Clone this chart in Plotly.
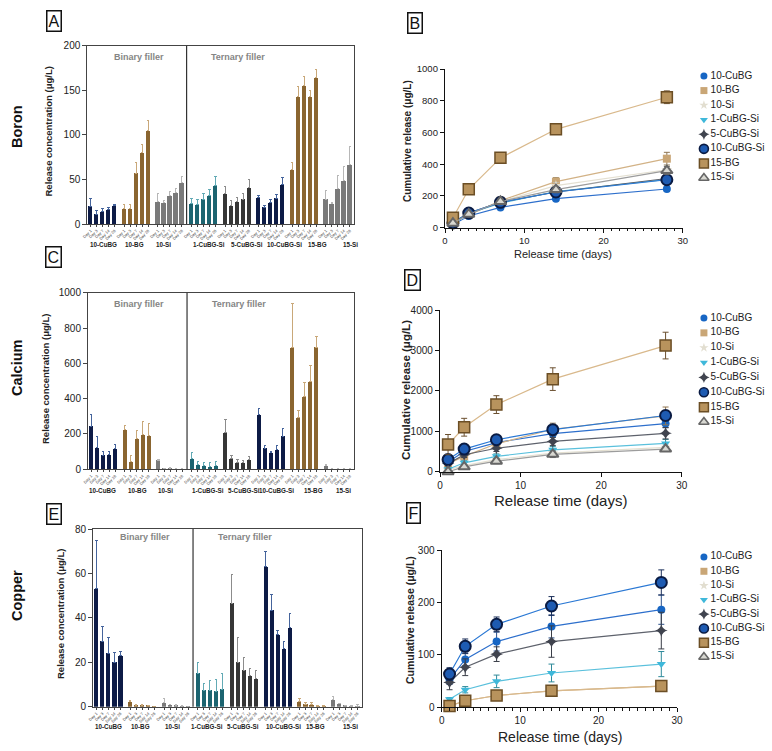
import plotly.graph_objects as go

# ---------------- data ----------------
groups = ['10-CuBG', '10-BG', '10-Si', '1-CuBG-Si', '5-CuBG-Si', '10-CuBG-Si', '15-BG', '15-Si']
day_labels = ['Day 1', 'Day 3', 'Day 7', 'Day 14', 'Day 28']
days = [1, 3, 7, 14, 28]

boron_conc = [
    [20, 11, 14, 16, 21],
    [17, 17, 57, 80, 105],
    [25, 24, 32, 35, 46],
    [23, 22, 28, 32, 43],
    [34, 21, 25, 28, 41],
    [30, 19, 24, 29, 44],
    [61, 143, 155, 143, 164],
    [28, 23, 40, 49, 67],
]
boron_conc_err = [
    [9, 4, 3, 3, 1],
    [5, 5, 12, 9, 11],
    [9, 2, 4, 5, 7],
    [6, 5, 6, 7, 10],
    [8, 5, 5, 6, 9],
    [2, 2, 3, 4, 8],
    [8, 11, 11, 7, 9],
    [10, 1, 14, 15, 20],
]
calcium_conc = [
    [245, 125, 81, 85, 115],
    [223, 45, 175, 195, 190],
    [52, 5, 5, 3, 1],
    [62, 25, 20, 17, 22],
    [206, 62, 38, 36, 53],
    [310, 120, 93, 112, 188],
    [688, 293, 410, 495, 692],
    [20, 2, 1, 1, 1],
]
calcium_conc_err = [
    [68, 60, 19, 15, 28],
    [25, 34, 43, 75, 68],
    [5, 2, 3, 2, 1],
    [33, 17, 18, 20, 20],
    [77, 15, 15, 15, 18],
    [35, 12, 10, 22, 43],
    [253, 40, 82, 95, 60],
    [8, 1, 1, 1, 1],
]
copper_conc = [
    [53, 29.5, 24, 20, 23],
    [2.2, 0.7, 0.7, 0.5, 0.1],
    [1.8, 0.8, 0.6, 0.2, 0.1],
    [15, 7.5, 7.5, 7, 7.8],
    [46.5, 20, 16.5, 14, 12.5],
    [63, 43.5, 32.5, 26, 35.5],
    [2.2, 1.0, 0.8, 0.3, 0.2],
    [3.2, 1.3, 0.4, 0.2, 0.3],
]
copper_conc_err = [
    [22, 6.5, 7, 4.5, 2],
    [0.8, 0.2, 0.2, 0.2, 0.1],
    [2, 0.3, 0.3, 0.2, 0.1],
    [5, 2.8, 4.5, 5.3, 7],
    [13, 11, 5.5, 3.2, 4],
    [7, 7, 1.8, 3.3, 6.5],
    [1.3, 0.8, 1.0, 0.4, 0.3],
    [1.5, 0.3, 0.2, 0.2, 0.5],
]

series = ['10-CuBG', '10-BG', '10-Si', '1-CuBG-Si', '5-CuBG-Si', '10-CuBG-Si', '15-BG', '15-Si']
boron_cum = [
    [20, 74, 128, 183, 244],
    [30, 80, 170, 290, 435],
    [25, 85, 165, 265, 365],
    [23, 90, 155, 228, 305],
    [34, 92, 160, 225, 310],
    [30, 92, 160, 225, 302],
    [63, 242, 440, 620, 822],
    [28, 85, 165, 240, 360],
]
boron_cum_err = [
    [5, 6, 8, 10, 12],
    [8, 10, 15, 25, 40],
    [8, 10, 15, 20, 30],
    [5, 8, 10, 12, 15],
    [8, 10, 12, 15, 20],
    [4, 6, 8, 10, 15],
    [10, 15, 15, 20, 40],
    [8, 10, 15, 20, 25],
]
calcium_cum = [
    [240, 500, 720, 940, 1190],
    [200, 380, 690, 1050, 1380],
    [50, 150, 300, 460, 600],
    [60, 220, 380, 540, 700],
    [200, 420, 580, 750, 950],
    [300, 560, 790, 1040, 1390],
    [670, 1100, 1660, 2290, 3120],
    [0, 120, 260, 430, 560],
]
calcium_cum_err = [
    [50, 60, 70, 90, 100],
    [80, 70, 80, 150, 220],
    [30, 40, 50, 60, 60],
    [40, 50, 60, 80, 100],
    [60, 70, 80, 100, 140],
    [60, 60, 60, 80, 120],
    [250, 220, 220, 280, 330],
    [20, 50, 60, 80, 60],
]
# 10-Si and 15-Si show no visible points in the copper panel
copper_cum = [
    [53, 91, 125, 154, 186],
    [2, 12, 22, 31, 40],
    [None] * 5,
    [15, 33, 49, 65, 82],
    [47, 76, 101, 125, 146],
    [63, 116, 158, 193, 238],
    [2, 12, 22, 31, 40],
    [None] * 5,
]
copper_cum_err = [
    [10, 12, 18, 22, 28],
    [2, 3, 3, 3, 4],
    [0, 0, 0, 0, 0],
    [3, 6, 12, 17, 24],
    [14, 16, 14, 30, 35],
    [12, 14, 14, 18, 24],
    [2, 3, 3, 3, 4],
    [0, 0, 0, 0, 0],
]

# ---------------- styles ----------------
FONT = 'Liberation Sans, Arial, sans-serif'
W, H = 772, 751


def px(p):
    return p / W


def py(p):
    return 1 - p / H


def note(**kw):
    kw.setdefault('xanchor', 'center')
    kw.setdefault('yanchor', 'middle')
    kw.setdefault('showarrow', False)
    fig.add_annotation(**kw)


NAVY, BROWN, GRAY, TEAL, DARK = '#0d1b46', '#8a6530', '#7a7a7a', '#1c6470', '#363636'
bar_colors = [NAVY, BROWN, GRAY, TEAL, DARK, NAVY, BROWN, GRAY]
err_colors = {NAVY: '#45649c', BROWN: '#c9a879', GRAY: '#b7b7b7', TEAL: '#62aab5', DARK: '#8c8c8c'}

line_styles = {
    '10-CuBG': dict(symbol='circle', size=8, color='#1766c4', ol='#1766c4', olw=0, line='#2d6fcc', err='#2a4f8a', lsize=7),
    '10-BG': dict(symbol='square', size=8, color='#c9a676', ol='#c9a676', olw=0, line='#d2b286', err='#8f7550', lsize=7),
    '10-Si': dict(symbol='star', size=8, color='#e2ded0', ol='#e2ded0', olw=0, line='#e4e0d2', err='#bdb8a8', lsize=7),
    '1-CuBG-Si': dict(symbol='triangle-down', size=8, color='#3fb8da', ol='#3fb8da', olw=0, line='#5ac0dc', err='#2f8a9a', lsize=7),
    '5-CuBG-Si': dict(symbol='star-diamond', size=9, color='#40444f', ol='#40444f', olw=0, line='#5e626c', err='#3a3e48', lsize=8),
    '10-CuBG-Si': dict(symbol='circle', size=11, color='#1e5bb2', ol='#0a1b43', olw=2, line='#2a78d4', err='#1b2f5a', lsize=9),
    '15-BG': dict(symbol='square', size=11, color='#b8935d', ol='#6b4e25', olw=1.5, line='#d9b98c', err='#6b5030', lsize=9),
    '15-Si': dict(symbol='triangle-up', size=10, color='#d8d8d2', ol='#666666', olw=2, line='#9c9c9c', err='#666666', lsize=9),
}

fig = go.Figure()

# ---------------- bar panels ----------------
GROUP_PITCH = 5.6
bar_panels = [
    dict(ax='', conc=boron_conc, err=boron_conc_err, dom=([87.3, 354], [45.7, 224]), rng=[0, 200], dt=50,
         glab_y=245, glab_x=[103, 134, 163, 209, 247, 284, 317, 350], filler_y=57, ytitle=(48, 131.5)),
    dict(ax='3', conc=calcium_conc, err=calcium_conc_err, dom=([88, 354], [292.7, 469.3]), rng=[0, 1000], dt=200,
         glab_y=490, glab_x=[102, 137, 165, 208, 244, 276, 313, 343], filler_y=304, ytitle=(45, 379)),
    dict(ax='5', conc=copper_conc, err=copper_conc_err, dom=([93, 361.7], [529, 706.7]), rng=[0, 80], dt=20,
         glab_y=726, glab_x=[108, 140, 172, 207, 243, 283, 315, 350], filler_y=536.7, ytitle=(60, 614)),
]

positions = [[g * GROUP_PITCH + i for i in range(len(day_labels))] for g in range(len(groups))]
tickvals = [v for row in positions for v in row]
ticktext = day_labels * len(groups)
divider_x = (positions[2][-1] + positions[3][0]) / 2

for p in bar_panels:
    xa, ya = 'x' + p['ax'], 'y' + p['ax']
    for g, name in enumerate(groups):
        c = bar_colors[g]
        fig.add_trace(go.Bar(
            x=positions[g], y=p['conc'][g], width=0.68, marker=dict(color=c, line=dict(width=0)),
            error_y=dict(type='data', array=p['err'][g], arrayminus=[0] * 5, symmetric=False,
                         color=err_colors[c], thickness=1, width=1.2),
            xaxis=xa, yaxis=ya, showlegend=False, name=name))
    key = p['ax']
    (x0, x1), (y0, y1) = p['dom']
    fig.layout['xaxis' + key] = dict(
        domain=[px(x0), px(x1)], anchor=ya, range=[-0.55, positions[-1][-1] + 0.7],
        tickmode='array', tickvals=tickvals, ticktext=ticktext, tickangle=-45, automargin=False,
        tickfont=dict(size=4, color='#444', family=FONT), ticks='outside', ticklen=2, tickcolor='#444',
        showline=True, linecolor='#444', linewidth=1, mirror=True, showgrid=False, zeroline=False)
    fig.layout['yaxis' + key] = dict(
        domain=[py(y1), py(y0)], anchor=xa, range=p['rng'], dtick=p['dt'], automargin=False,
        tickfont=dict(size=10, color='#222', family=FONT), ticks='outside', ticklen=4, tickcolor='#444',
        showline=True, linecolor='#444', linewidth=1, mirror=True, showgrid=False, zeroline=False)
    fig.add_shape(type='line', xref=xa, yref=ya + ' domain', x0=divider_x, x1=divider_x, y0=0, y1=1,
                  line=dict(color='#333', width=1.2))
    for g, name in enumerate(groups):
        note(x=px(p['glab_x'][g]), xref='paper', y=py(p['glab_y']), yref='paper',
             text='<b>%s</b>' % name, font=dict(size=6.3, color='#222', family=FONT))
    note(x=(positions[0][0] + divider_x) / 2, xref=xa, y=py(p['filler_y']), yref='paper',
         text='<b>Binary filler</b>', font=dict(size=9, color='#858585', family=FONT))
    note(x=(divider_x + positions[-1][-1]) / 2 - 5, xref=xa, y=py(p['filler_y']), yref='paper',
         text='<b>Ternary filler</b>', font=dict(size=9, color='#858585', family=FONT))
    note(x=px(p['ytitle'][0]), y=py(p['ytitle'][1]), xref='paper', yref='paper', textangle=-90,
         text='<b>Release concentration (μg/L)</b>', font=dict(size=9.5, color='#222', family=FONT))

# ---------------- line panels ----------------
line_panels = [
    dict(ax='2', cum=boron_cum, err=boron_cum_err, dom=([445, 682.7], [69, 227.7]), rng=[0, 1000], dt=200,
         minor=True, xtitle=(563, 254, 11), ytitle=(407, 141, 10), leg=(76, 178), tf=9.5),
    dict(ax='4', cum=calcium_cum, err=calcium_cum_err, dom=([440, 681.7], [310, 471.7]), rng=[0, 4000], dt=1000,
         minor=False, xtitle=(560, 500, 15), ytitle=(406, 390, 11.5), leg=(318, 422), tf=10),
    dict(ax='6', cum=copper_cum, err=copper_cum_err, dom=([441.7, 677], [550, 707]), rng=[0, 300], dt=100,
         minor=True, xtitle=(560, 737, 14), ytitle=(410, 620, 10.5), leg=(557, 657), tf=10),
]
leg_axes = ['7', '8', '9']

for p, lk in zip(line_panels, leg_axes):
    key = p['ax']
    xa, ya = 'x' + key, 'y' + key
    for s, name in enumerate(series):
        st = line_styles[name]
        fig.add_trace(go.Scatter(
            x=days, y=p['cum'][s], mode='lines+markers', name=name, showlegend=False, cliponaxis=False,
            line=dict(color=st['line'], width=1.2),
            marker=dict(symbol=st['symbol'], size=st['size'], color=st['color'],
                        line=dict(color=st['ol'], width=st['olw'])),
            error_y=dict(type='data', array=p['err'][s], color=st['err'], thickness=1, width=3),
            xaxis=xa, yaxis=ya))
    (x0, x1), (y0, y1) = p['dom']
    xdict = dict(domain=[px(x0), px(x1)], anchor=ya, range=[0, 30], dtick=10, automargin=False,
                 tickfont=dict(size=p['tf'], color='#222', family=FONT),
                 ticks='outside', ticklen=4, tickcolor='#111', showline=True, linecolor='#111', linewidth=1.3,
                 showgrid=False, zeroline=False)
    if p['minor']:
        xdict['minor'] = dict(dtick=1, ticks='outside', ticklen=2.5, tickcolor='#111', showgrid=False)
    fig.layout['xaxis' + key] = xdict
    fig.layout['yaxis' + key] = dict(domain=[py(y1), py(y0)], anchor=xa, range=p['rng'], dtick=p['dt'],
                                     automargin=False,
                                     tickfont=dict(size=p['tf'], color='#222', family=FONT), ticks='outside',
                                     ticklen=4, tickcolor='#111', showline=True, linecolor='#111', linewidth=1.3,
                                     showgrid=False, zeroline=False)
    xt = p['xtitle']
    note(x=px(xt[0]), y=py(xt[1]), xref='paper', yref='paper', text='Release time (days)',
         font=dict(size=xt[2], color='#222', family=FONT))
    yt = p['ytitle']
    note(x=px(yt[0]), y=py(yt[1]), xref='paper', yref='paper', textangle=-90,
         text='<b>Cumulative release (μg/L)</b>', font=dict(size=yt[2], color='#222', family=FONT))
    # manual legend
    top, bot = p['leg']
    half = (bot - top) / (len(series) - 1) / 2
    lxa, lya = 'x' + lk, 'y' + lk
    idx = list(range(len(series)))
    for s, name in enumerate(series):
        st = line_styles[name]
        fig.add_trace(go.Scatter(
            x=[0.08], y=[s], mode='markers', showlegend=False, cliponaxis=False, hoverinfo='skip',
            marker=dict(symbol=st['symbol'], size=st['lsize'], color=st['color'],
                        line=dict(color=st['ol'], width=min(st['olw'], 1.6))),
            xaxis=lxa, yaxis=lya))
    fig.add_trace(go.Scatter(x=[0.17] * len(series), y=idx, mode='text', text=series, textposition='middle right',
                             textfont=dict(size=10, color='#222', family=FONT), showlegend=False,
                             cliponaxis=False, hoverinfo='skip', xaxis=lxa, yaxis=lya))
    fig.layout['xaxis' + lk] = dict(domain=[px(698), px(772)], anchor=lya, range=[0, 1], visible=False)
    fig.layout['yaxis' + lk] = dict(domain=[py(bot + half), py(top - half)], anchor=lxa,
                                    range=[len(series) - 0.5, -0.5], visible=False)

# ---------------- labels ----------------
for text, x, y in [('Boron', 17, 127), ('Calcium', 17, 368), ('Copper', 17, 596)]:
    note(x=px(x), y=py(y), xref='paper', yref='paper', text='<b>%s</b>' % text, textangle=-90,
         font=dict(size=14.5, color='#111', family=FONT))

for text, x, y in [('A', 53.5, 21.5), ('B', 414.7, 22.8), ('C', 53.5, 257), ('D', 412.5, 280),
                   ('E', 53.5, 513.5), ('F', 413, 512.5)]:
    note(x=px(x), y=py(y), xref='paper', yref='paper', text=text,
         font=dict(size=16, color='#111', family=FONT), bordercolor='#111', borderwidth=1.5,
         borderpad=1, bgcolor='white')

fig.update_layout(width=W, height=H, margin=dict(l=0, r=0, t=0, b=0, pad=0, autoexpand=False),
                  plot_bgcolor='white', paper_bgcolor='white', bargap=0, font=dict(family=FONT),
                  showlegend=False)

fig.write_html('out.html', config={'displayModeBar': False},
               post_script="document.body.style.margin='0';")
